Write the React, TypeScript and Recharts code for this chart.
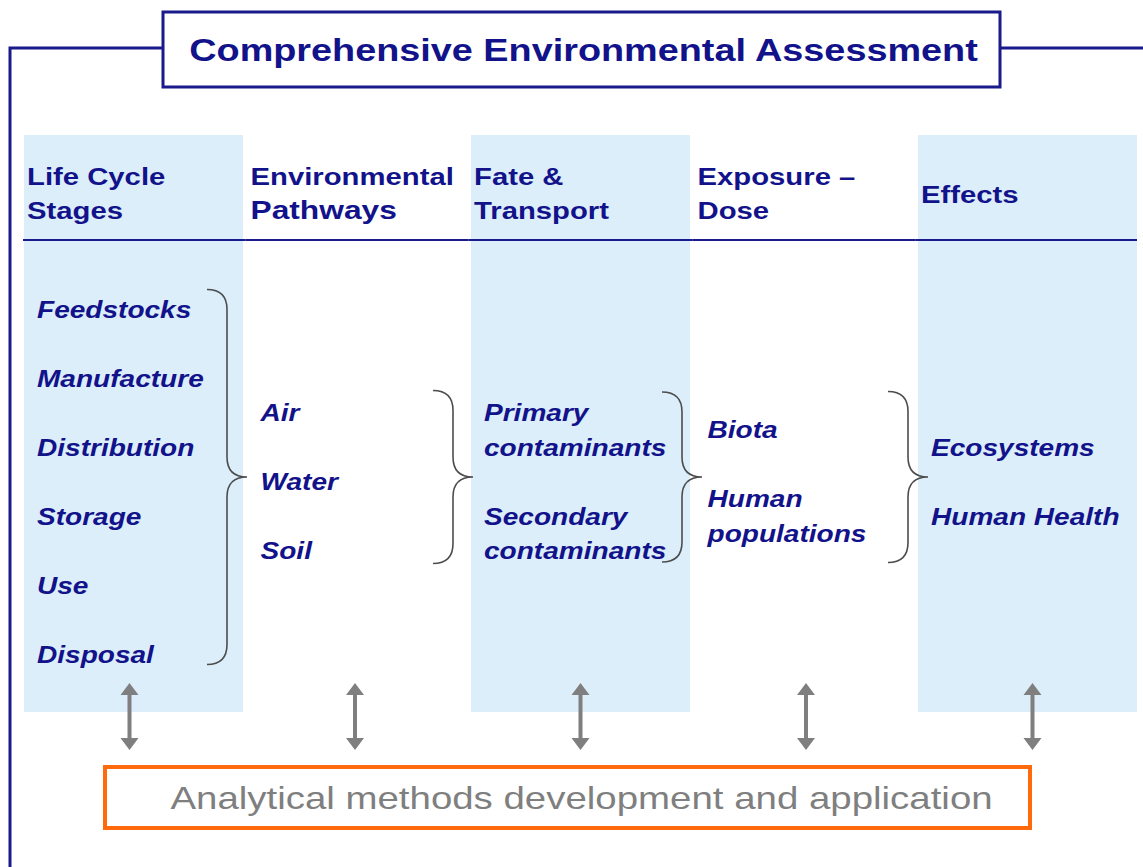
import React from 'react';
import { ComposedChart, Bar, Scatter, XAxis, YAxis, ReferenceArea, Label } from 'recharts';

// ---------- content ----------
const stageKeys = ['lifecycle', 'pathways', 'fate', 'exposure', 'effects'];
const headerLine1 = ['Life Cycle', 'Environmental', 'Fate &', 'Exposure –', 'Effects'];
const headerLine2 = ['Stages', 'Pathways', 'Transport', 'Dose', ''];
const lifeCycleItems = [['Feedstocks'], ['Manufacture'], ['Distribution'], ['Storage'], ['Use'], ['Disposal']];
const pathwayItems = [['Air'], ['Water'], ['Soil']];
const fateItems = [['Primary', 'contaminants'], ['Secondary', 'contaminants']];
const exposureItems = [['Biota'], ['Human', 'populations']];
const effectsItems = [['Ecosystems'], ['Human Health']];
const shaded = [true, false, true, false, true];
const hasBrace = [true, true, true, true, false];
const titleText = 'Comprehensive Environmental Assessment';
const methodsText = 'Analytical methods development and application';

// ---------- layout & style constants ----------
const W = 1143;
const H = 867;
const SX = 1.22; // horizontal glyph stretch of the original slide
const FONT = "'Liberation Sans', Arial, Helvetica, sans-serif";
const NAVY_TEXT = '#12128a';
const NAVY_LINE = '#1a1a8c';
const SHADE = '#dbeefa';
const GRAY = '#7f7f7f';
const BRACE_COLOR = '#4d4d4d';
const ORANGE = '#ff6a0d';

const PAD_LEFT = 21.75;
const PAD_RIGHT = 3.75;
const COL_TOP = 135;
const COL_BOTTOM = 712;
const HEAD_BASE1 = 185;
const HEAD_BASE2 = 219;
const HEAD_SINGLE = 203;
const HEAD_SIZE = 24;
const HEAD_EMPH_SIZE = 26;
const headerEmphasis = [false, true, false, false, false];
const RULE_Y = 240;
const BLOCK_CENTER = 482;
const LINE_PITCH = 34.5;
const PARA_PITCH = 69;
const ITEM_SIZE = 23;
const ITEM_SHIFT = 8;
const ITEM_INDENT = 13;
const HEAD_INDENT = 3;
const BRACE_CENTER = 477;
const braceHalf = [187.5, 86.5, 85, 85.5];
const braceTipOffset = [4, 6.5, 12, 14.5];
const BRACE_W = 40;
const BRACE_R = 20;
const ARROW_TOP = 683;
const ARROW_BOTTOM = 750;
const ARROW_HEAD_H = 12;
const ARROW_HEAD_W = 18;
const ARROW_SHAFT = 4;
const arrowShift = [-4, -2, 0, 2, 5];

const FRAME_X = 10;
const FRAME_Y = 48;
const TITLE_X1 = 163;
const TITLE_X2 = 1000;
const TITLE_Y1 = 12;
const TITLE_Y2 = 87;
const METHODS_X1 = 105;
const METHODS_X2 = 1030;
const METHODS_Y1 = 767;
const METHODS_Y2 = 828;
const METHODS_TEXT_SHIFT_X = 14;

// frame polylines (layout geometry)
const frameLeftPath = [
  { lx: FRAME_X, ly: H },
  { lx: FRAME_X, ly: FRAME_Y },
  { lx: TITLE_X1, ly: FRAME_Y },
];
const frameRightPath = [
  { lx: TITLE_X2, ly: FRAME_Y },
  { lx: W, ly: FRAME_Y },
];

const columnItems = [lifeCycleItems, pathwayItems, fateItems, exposureItems, effectsItems];

const table = stageKeys.map((key, i) => ({
  key,
  shade: shaded[i] ? [COL_TOP, COL_BOTTOM] : null,
  frame: [COL_TOP, COL_BOTTOM],
  idx: i,
}));

const SText = ({ x, y, size, bold = true, italic = false, fill, anchor = 'start', children }: any) => (
  <text
    transform={`translate(${x} ${y}) scale(${SX} 1)`}
    x={0}
    y={0}
    fontFamily={FONT}
    fontSize={size}
    fontWeight={bold ? 700 : 400}
    fontStyle={italic ? 'italic' : 'normal'}
    fill={fill}
    textAnchor={anchor}
  >
    {children}
  </text>
);

function layoutLines(paras: string[][]) {
  const lines: { text: string; pos: number }[] = [];
  let pos = 0;
  paras.forEach((p, pi) => {
    if (pi > 0) pos += PARA_PITCH;
    p.forEach((ln, li) => {
      if (li > 0) pos += LINE_PITCH;
      lines.push({ text: ln, pos });
    });
  });
  const span = pos;
  return lines.map((l) => ({ text: l.text, v: BLOCK_CENTER - span / 2 + l.pos }));
}

const ShadeShape = (props: any) => {
  const { x, y, width, height } = props;
  const top = Math.min(y, y + height);
  return <rect x={x} y={top} width={width} height={Math.abs(height)} fill={SHADE} />;
};

const ColumnContent = (props: any) => {
  const { x, y, width, height, payload } = props;
  const i = payload.idx;
  const py = (v: number) => y + ((COL_BOTTOM - v) / (COL_BOTTOM - COL_TOP)) * height;
  const hx = x + HEAD_INDENT;
  const l2 = headerLine2[i];
  const lines = layoutLines(columnItems[i]);
  const elems: any[] = [];
  if (l2) {
    elems.push(
      <SText key="h1" x={hx} y={py(HEAD_BASE1)} size={HEAD_SIZE} fill={NAVY_TEXT}>{headerLine1[i]}</SText>,
      <SText key="h2" x={hx} y={py(HEAD_BASE2)} size={headerEmphasis[i] ? HEAD_EMPH_SIZE : HEAD_SIZE} fill={NAVY_TEXT}>{l2}</SText>
    );
  } else {
    elems.push(
      <SText key="h1" x={hx} y={py(HEAD_SINGLE)} size={HEAD_SIZE} fill={NAVY_TEXT}>{headerLine1[i]}</SText>
    );
  }
  lines.forEach((ln, k) => {
    elems.push(
      <SText key={'it' + k} x={x + ITEM_INDENT} y={py(ln.v) + ITEM_SHIFT} size={ITEM_SIZE} italic fill={NAVY_TEXT}>{ln.text}</SText>
    );
  });
  if (hasBrace[i]) {
    const tipX = x + width + braceTipOffset[i];
    const x0 = tipX - BRACE_W;
    const xm = x0 + BRACE_W / 2;
    const top = py(BRACE_CENTER - braceHalf[i]);
    const bot = py(BRACE_CENTER + braceHalf[i]);
    const mid = py(BRACE_CENTER);
    const r = BRACE_R;
    const d = `M ${x0} ${top} Q ${xm} ${top} ${xm} ${top + r} L ${xm} ${mid - r} Q ${xm} ${mid} ${tipX} ${mid} Q ${xm} ${mid} ${xm} ${mid + r} L ${xm} ${bot - r} Q ${xm} ${bot} ${x0} ${bot}`;
    elems.push(<path key="brace" d={d} fill="none" stroke={BRACE_COLOR} strokeWidth={1.6} />);
  }
  const cx = x + width / 2 + arrowShift[i];
  const at = py(ARROW_TOP);
  const ab = py(ARROW_BOTTOM);
  const hw = ARROW_HEAD_W / 2;
  const sw = ARROW_SHAFT / 2;
  const pts = [
    [cx, at], [cx + hw, at + ARROW_HEAD_H], [cx + sw, at + ARROW_HEAD_H], [cx + sw, ab - ARROW_HEAD_H],
    [cx + hw, ab - ARROW_HEAD_H], [cx, ab], [cx - hw, ab - ARROW_HEAD_H], [cx - sw, ab - ARROW_HEAD_H],
    [cx - sw, at + ARROW_HEAD_H], [cx - hw, at + ARROW_HEAD_H],
  ].map((p) => p.join(',')).join(' ');
  elems.push(<polygon key="arrow" points={pts} fill={GRAY} />);
  const bandGap = 2.25;
  const rx1 = i === 0 ? x - 1 : x - bandGap;
  const rx2 = i === stageKeys.length - 1 ? x + width : x + width + bandGap;
  elems.push(<line key="rule" x1={rx1} x2={rx2} y1={py(RULE_Y)} y2={py(RULE_Y)} stroke={NAVY_LINE} strokeWidth={2} />);
  return <g>{elems}</g>;
};

const centeredText = (text: string, size: number, bold: boolean, fill: string, shift: number, dx = 0) => (p: any) => {
  const vb = p.viewBox;
  return (
    <SText x={vb.x + vb.width / 2 + dx} y={vb.y + vb.height / 2 + shift} size={size} bold={bold} fill={fill} anchor="middle">
      {text}
    </SText>
  );
};

const NoPoint = () => <g />;

export default function App() {
  return (
    <div style={{ position: 'absolute', left: 0, top: 0, width: W, height: H, background: '#ffffff' }}>
      <ComposedChart
        width={W}
        height={H}
        data={table}
        margin={{ top: 0, right: 0, bottom: 0, left: 0 }}
        barCategoryGap={2.25}
        barGap={0}
      >
        <XAxis xAxisId="a" dataKey="key" type="category" hide padding={{ left: PAD_LEFT, right: PAD_RIGHT }} />
        <XAxis xAxisId="b" dataKey="key" type="category" hide padding={{ left: PAD_LEFT, right: PAD_RIGHT }} />
        <XAxis xAxisId="L" dataKey="lx" type="number" domain={[0, W]} hide allowDataOverflow />
        <YAxis yAxisId="y" type="number" domain={[0, H]} reversed hide allowDataOverflow />
        <YAxis yAxisId="LY" dataKey="ly" type="number" domain={[0, H]} reversed hide allowDataOverflow />

        <Scatter xAxisId="L" yAxisId="LY" data={frameLeftPath} dataKey="ly" line={{ stroke: NAVY_LINE, strokeWidth: 3 }} shape={<NoPoint />} isAnimationActive={false} />
        <Scatter xAxisId="L" yAxisId="LY" data={frameRightPath} dataKey="ly" line={{ stroke: NAVY_LINE, strokeWidth: 3 }} shape={<NoPoint />} isAnimationActive={false} />

        <ReferenceArea xAxisId="L" yAxisId="LY" x1={TITLE_X1} x2={TITLE_X2} y1={TITLE_Y1} y2={TITLE_Y2} fill="#ffffff" fillOpacity={1} stroke={NAVY_LINE} strokeWidth={3} ifOverflow="visible">
          <Label content={centeredText(titleText, 31, true, NAVY_TEXT, 11, 2)} />
        </ReferenceArea>

        <Bar xAxisId="a" yAxisId="y" dataKey="shade" shape={(p: any) => <ShadeShape {...p} />} isAnimationActive={false} />
        <Bar xAxisId="b" yAxisId="y" dataKey="frame" shape={(p: any) => <ColumnContent {...p} />} isAnimationActive={false} />

        <ReferenceArea xAxisId="L" yAxisId="LY" x1={METHODS_X1} x2={METHODS_X2} y1={METHODS_Y1} y2={METHODS_Y2} fill="#ffffff" fillOpacity={1} stroke={ORANGE} strokeWidth={4} ifOverflow="visible">
          <Label content={centeredText(methodsText, 31.5, false, GRAY, 11, METHODS_TEXT_SHIFT_X)} />
        </ReferenceArea>
      </ComposedChart>
    </div>
  );
}
